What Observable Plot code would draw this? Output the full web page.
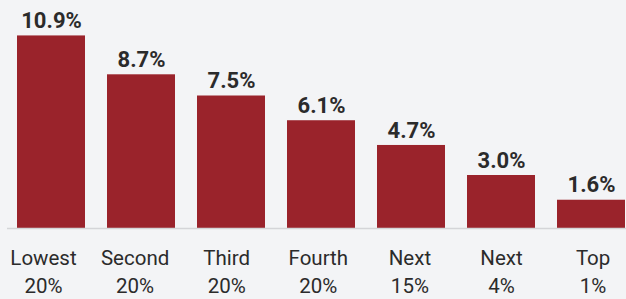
<!DOCTYPE html>
<html>
<head>
<meta charset="utf-8">
<script src="https://cdn.jsdelivr.net/npm/d3@7"></script>
<script src="https://cdn.jsdelivr.net/npm/@observablehq/plot@0.6"></script>
<style>
  html, body { margin: 0; padding: 0; background: #f3f4f6; }
  #chart svg { display: block; background: #f3f4f6; font-family: Roboto, sans-serif; }
</style>
</head>
<body>
<div id="chart"></div>
<script>
const groups = ["Lowest\n20%", "Second\n20%", "Third\n20%", "Fourth\n20%", "Next\n15%", "Next\n4%", "Top\n1%"];
const values = [10.9, 8.7, 7.5, 6.1, 4.7, 3.0, 1.6];
const data = groups.map((g, i) => ({group: g, value: values[i]}));

// category labels sit on a slightly wider spacing than the bars in the original
const labelMarks = groups.map((g, i) =>
  Plot.text([g], {
    x: d => d, text: d => d, frameAnchor: "bottom", lineAnchor: "top",
    dy: 16, dx: -8 + 1.6 * i, fontSize: 20.5, lineHeight: 1.39, fill: "#2b2b2b"
  })
);

const chart = Plot.plot({
  width: 626,
  height: 299,
  marginLeft: 7,
  marginRight: 0,
  marginTop: 16,
  marginBottom: 71,
  style: {background: "#f3f4f6", fontFamily: "Roboto, sans-serif"},
  x: {domain: groups, range: [15, 628], paddingInner: 0.239, paddingOuter: 0, label: null, axis: null},
  y: {domain: [0, 12], axis: null},
  marks: [
    Plot.barY(data, {x: "group", y: "value", fill: "#9a232b"}),
    Plot.ruleY([0], {stroke: "#d4d5d8", strokeWidth: 1.5}),
    Plot.text(data, {x: "group", y: "value", text: d => d.value.toFixed(1) + "%", dy: -15, fontSize: 22, fontWeight: "bold", fill: "#2b2b2b"}),
    ...labelMarks
  ]
});
document.getElementById("chart").appendChild(chart);
</script>
</body>
</html>
